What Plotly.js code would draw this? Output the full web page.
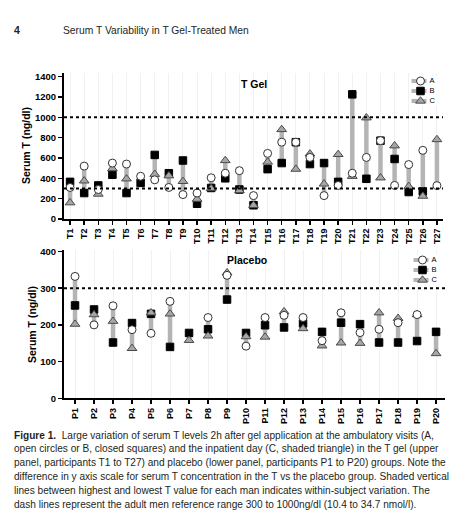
<!DOCTYPE html>
<html>
<head>
<meta charset="utf-8">
<script src="https://cdn.plot.ly/plotly-3.0.1.min.js"></script>
<style>html,body{margin:0;padding:0;background:#fff;}#chart{width:473px;height:520px;}</style>
</head>
<body>
<div id="chart"></div>
<script>
// ---------- DATA ----------
const tCats = ['T1','T2','T3','T4','T5','T6','T7','T8','T9','T10','T11','T12','T13','T14','T15','T16','T17','T18','T19','T20','T21','T22','T23','T24','T25','T26','T27'];
const tA = [310,520,290,550,540,420,385,310,240,255,405,450,475,230,645,755,755,605,230,330,450,605,770,330,535,675,328];
const tB = [365,255,330,435,255,355,630,450,575,150,305,400,290,135,490,550,755,540,550,365,1225,395,770,590,265,270,null];
const tC = [160,375,245,495,395,null,440,425,370,195,300,575,280,135,560,880,490,640,345,635,420,995,405,720,320,225,781];

const pCats = ['P1','P2','P3','P4','P5','P6','P7','P8','P9','P10','P11','P12','P13','P14','P15','P16','P17','P18','P19','P20'];
const pA = [332,200,252,187,177,264,null,220,335,142,220,226,220,157,233,179,188,206,228,null];
const pB = [253,242,152,205,230,140,178,188,269,178,199,193,204,181,206,202,152,152,156,181];
const pC = [202,228,210,136,233,230,158,170,342,168,167,236,190,143,151,150,233,218,228,122];

const tTicks = [0,200,400,600,800,1000,1200,1400];
const pTicks = [0,100,200,300,400];
const tRefLines = [300,1000];
const pRefLines = [300];
const legendLabels = ['A','B','C'];
const panelTitles = ['T Gel','Placebo'];
const yTitle = 'Serum T (ng/dl)';
const headerNum = '4';
const headerText = 'Serum T Variability in T Gel-Treated Men';
const captionLines = [
 '<b>Figure 1.</b>  Large variation of serum T levels 2h after gel application at the ambulatory visits (A,',
 'open circles or B, closed squares) and the inpatient day (C, shaded triangle) in the T gel (upper',
 'panel, participants T1 to T27) and placebo (lower panel, participants P1 to P20) groups. Note the',
 'difference in y axis scale for serum T concentration in the T vs the placebo group. Shaded vertical',
 'lines between highest and lowest T value for each man indicates within-subject variation. The',
 'dash lines represent the adult men reference range 300 to 1000ng/dl (10.4 to 34.7 nmol/l).'
];

// ---------- STYLES ----------
const W = 473, H = 520;
const px = v => v / W;
const py = v => 1 - v / H;
const FONT = 'Liberation Sans, Arial, sans-serif';
const barColor = '#b4b4b4';
const markerStyles = [
  {symbol:'circle', size:8, color:'#ffffff', line:{color:'#333333', width:1}},
  {symbol:'square', size:7.5, color:'#000000', line:{color:'#000000', width:1}},
  {symbol:'triangle-up', size:8.5, color:'#a6a6a6', line:{color:'#4a4a4a', width:1}}
];
const drawOrder = [1,2,0]; // squares, triangles, circles on top

function rangeTrace(cats, series, xa, ya){
  const x=[], y=[];
  cats.forEach((c,i)=>{
    const vals = series.map(s=>s[i]).filter(v=>v!==null && v!==undefined);
    if(vals.length<2) return;
    x.push(c,c,c); y.push(Math.min(...vals), Math.max(...vals), null);
  });
  return {x, y, xaxis:xa, yaxis:ya, type:'scatter', mode:'lines', line:{color:barColor, width:4.5}, hoverinfo:'skip', connectgaps:false};
}
function markerTrace(cats, vals, k, xa, ya){
  const x=[], y=[];
  cats.forEach((c,i)=>{ if(vals[i]!==null){x.push(c); y.push(vals[i]);} });
  return {x, y, xaxis:xa, yaxis:ya, type:'scatter', mode:'markers', marker:markerStyles[k], name:legendLabels[k]};
}

const traces = [];
const tSeries = [tA,tB,tC], pSeries = [pA,pB,pC];
traces.push(rangeTrace(tCats, tSeries, 'x', 'y'));
drawOrder.forEach(k=>traces.push(markerTrace(tCats, tSeries[k], k, 'x', 'y')));
traces.push(rangeTrace(pCats, pSeries, 'x2', 'y2'));
drawOrder.forEach(k=>traces.push(markerTrace(pCats, pSeries[k], k, 'x2', 'y2')));

// manual legends in small hidden axes
[['x3','y3'],['x4','y4']].forEach(([xa,ya])=>{
  legendLabels.forEach((lab,k)=>{
    traces.push({x:[0.1,1.1], y:[k,k], xaxis:xa, yaxis:ya, type:'scatter', mode:'lines', line:{color:barColor, width:4}, hoverinfo:'skip'});
    traces.push({x:[0.7], y:[k], xaxis:xa, yaxis:ya, type:'scatter', mode:'markers', marker:markerStyles[k], hoverinfo:'skip'});
    traces.push({x:[1.3], y:[k], xaxis:xa, yaxis:ya, type:'scatter', mode:'text', text:[lab], textposition:'middle right', textfont:{size:7.5, family:FONT, color:'#000'}, hoverinfo:'skip'});
  });
});

const xBase = {
  type:'category', showline:true, linecolor:'#000', linewidth:2, ticks:'outside', ticklen:4, tickwidth:1.5, tickcolor:'#000',
  tickangle:-90, tickfont:{family:FONT, size:9, weight:'bold', color:'#000'}, showgrid:true, gridcolor:'#f1f1f1', gridwidth:1,
  zeroline:false, fixedrange:true
};
const yBase = {
  showline:true, linecolor:'#000', linewidth:2, ticks:'outside', ticklen:4, tickwidth:1.5, tickcolor:'#000',
  tickfont:{family:FONT, size:9.5, weight:'bold', color:'#000'}, showgrid:false, zeroline:false, fixedrange:true
};
const hidden = {visible:false, fixedrange:true};

const shapes = [];
tRefLines.forEach(v=>shapes.push({type:'line', xref:'x domain', yref:'y', x0:0, x1:1, y0:v, y1:v, line:{color:'#000', width:2, dash:'dot'}}));
pRefLines.forEach(v=>shapes.push({type:'line', xref:'x2 domain', yref:'y2', x0:0, x1:1, y0:v, y1:v, line:{color:'#000', width:2, dash:'dot'}}));

const annotations = [];
annotations.push({xref:'paper', yref:'paper', x:px(12), y:py(30), xanchor:'left', yanchor:'middle', showarrow:false, text:'<b>'+headerNum+'</b>', font:{family:FONT, size:10.5, color:'#231f20'}});
annotations.push({xref:'paper', yref:'paper', x:px(61), y:py(30), xanchor:'left', yanchor:'middle', showarrow:false, text:headerText, font:{family:FONT, size:10.3, color:'#231f20'}});
annotations.push({xref:'paper', yref:'paper', x:px(254), y:py(84), xanchor:'center', yanchor:'middle', showarrow:false, text:'<b>'+panelTitles[0]+'</b>', font:{family:FONT, size:10.5, color:'#000'}});
annotations.push({xref:'paper', yref:'paper', x:px(247), y:py(260), xanchor:'center', yanchor:'middle', showarrow:false, text:'<b>'+panelTitles[1]+'</b>', font:{family:FONT, size:10.5, color:'#000'}});
annotations.push({xref:'paper', yref:'paper', x:px(26), y:py(146), xanchor:'center', yanchor:'middle', textangle:-90, showarrow:false, text:'<b>'+yTitle+'</b>', font:{family:FONT, size:10.5, color:'#000'}});
annotations.push({xref:'paper', yref:'paper', x:px(32), y:py(325), xanchor:'center', yanchor:'middle', textangle:-90, showarrow:false, text:'<b>'+yTitle+'</b>', font:{family:FONT, size:10.5, color:'#000'}});
captionLines.forEach((ln,i)=>{
  annotations.push({xref:'paper', yref:'paper', x:px(12), y:py(435 + i*13.8), xanchor:'left', yanchor:'middle', showarrow:false, align:'left', text:ln, font:{family:FONT, size:10.1, color:'#231f20'}});
});

const layout = {
  width:W, height:H, margin:{l:0,r:0,t:0,b:0}, paper_bgcolor:'#fff', plot_bgcolor:'#fff', showlegend:false,
  font:{family:FONT, color:'#000'},
  xaxis: Object.assign({}, xBase, {domain:[px(64), px(443)], range:[-0.43, 26.43], anchor:'y'}),
  yaxis: Object.assign({}, yBase, {domain:[py(219), py(72.5)], range:[0, 1440], tickvals:tTicks, anchor:'x'}),
  xaxis2: Object.assign({}, xBase, {domain:[px(64), px(445)], range:[-0.58, 19.47], anchor:'y2'}),
  yaxis2: Object.assign({}, yBase, {domain:[py(398.3), py(250)], range:[0, 404], tickvals:pTicks, anchor:'x2'}),
  xaxis3: Object.assign({}, hidden, {domain:[px(410), px(440)], range:[0,2], anchor:'y3'}),
  yaxis3: Object.assign({}, hidden, {domain:[py(106), py(76)], range:[2.5,-0.5], anchor:'x3'}),
  xaxis4: Object.assign({}, hidden, {domain:[px(412), px(442)], range:[0,2], anchor:'y4'}),
  yaxis4: Object.assign({}, hidden, {domain:[py(285), py(255)], range:[2.5,-0.5], anchor:'x4'}),
  shapes, annotations
};

Plotly.newPlot('chart', traces, layout, {staticPlot:true, displayModeBar:false});
</script>
</body>
</html>
